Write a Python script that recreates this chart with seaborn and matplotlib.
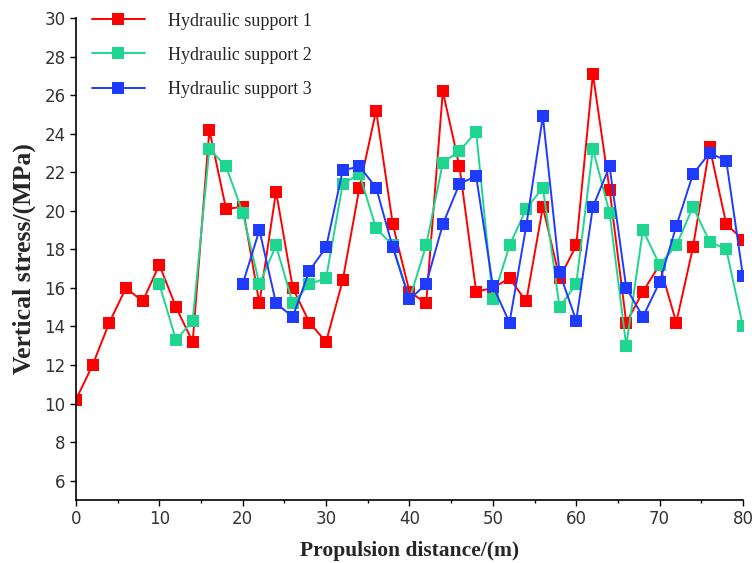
import numpy as np
import pandas as pd
import matplotlib
matplotlib.use("Agg")
import matplotlib.pyplot as plt
import seaborn as sns
from matplotlib.ticker import MultipleLocator

# Data
x1 = list(range(0, 82, 2))
support1 = [10.2, 12.0, 14.2, 16.0, 15.3, 17.2, 15.0, 13.2, 24.2, 20.1,
            20.2, 15.2, 21.0, 16.0, 14.2, 13.2, 16.4, 21.2, 25.2, 19.3,
            15.8, 15.2, 26.2, 22.3, 15.8, 16.0, 16.5, 15.3, 20.2, 16.5,
            18.2, 27.1, 21.1, 14.2, 15.8, 17.2, 14.2, 18.1, 23.3, 19.3,
            18.5]

x2 = list(range(10, 82, 2))
support2 = [16.2, 13.3, 14.3, 23.2, 22.3, 19.9, 16.2, 18.2, 15.2, 16.2,
            16.5, 21.4, 21.9, 19.1, 18.2, 15.4, 18.2, 22.5, 23.1, 24.1,
            15.4, 18.2, 20.1, 21.2, 15.0, 16.2, 23.2, 19.9, 13.0, 19.0,
            17.2, 18.2, 20.2, 18.4, 18.0, 14.0]

x3 = list(range(20, 82, 2))
support3 = [16.2, 19.0, 15.2, 14.5, 16.9, 18.1, 22.1, 22.3, 21.2, 18.1,
            15.4, 16.2, 19.3, 21.4, 21.8, 16.1, 14.2, 19.2, 24.9, 16.8,
            14.3, 20.2, 22.3, 16.0, 14.5, 16.3, 19.2, 21.9, 23.0, 22.6,
            16.6]

labels = ["Hydraulic support 1", "Hydraulic support 2", "Hydraulic support 3"]
colors = ["#ff0000", "#1ed68f", "#1f3bff"]

x_ticks = list(range(0, 90, 10))
y_ticks = list(range(6, 32, 2))

sns.set_theme(style="white")
plt.rcParams["font.family"] = ["Liberation Serif", "DejaVu Serif"]

fig, ax = plt.subplots(figsize=(7.52, 5.63), dpi=100)
fig.subplots_adjust(left=0.101, right=0.988, bottom=0.112, top=0.968)

for xs, ys, lab, col in zip([x1, x2, x3], [support1, support2, support3], labels, colors):
    df = pd.DataFrame({"x": xs, "y": ys})
    sns.lineplot(data=df, x="x", y="y", ax=ax, color=col, label=lab,
                 marker="s", markersize=8, markeredgewidth=0, linewidth=1.4)

ax.set_xlim(0, 80)
ax.set_ylim(5, 30)
ax.set_xticks(x_ticks)
ax.set_yticks(y_ticks)
ax.xaxis.set_minor_locator(MultipleLocator(5))

for side in ["top", "right"]:
    ax.spines[side].set_visible(False)
for side in ["left", "bottom"]:
    ax.spines[side].set_color("black")
    ax.spines[side].set_linewidth(1.2)

ax.tick_params(axis="both", which="major", direction="out", length=4, width=1,
               color="black", bottom=True, left=True, labelsize=12, labelcolor="#333333")
ax.tick_params(axis="x", which="minor", direction="out", length=2.5, width=1,
               color="black", bottom=True)
for lbl in ax.get_xticklabels() + ax.get_yticklabels():
    lbl.set_family(["DejaVu Sans"])

ax.set_xlabel("Propulsion distance/(m)", fontsize=15.5, fontweight="bold", labelpad=9)
ax.set_ylabel("Vertical stress/(MPa)", fontsize=18.5, fontweight="bold", labelpad=6)

ax.legend(loc="upper left", bbox_to_anchor=(0.0, 1.045), frameon=False, fontsize=13,
          handlelength=2.9, handletextpad=1.3, labelspacing=0.95)

plt.savefig("out.png", dpi=100)
